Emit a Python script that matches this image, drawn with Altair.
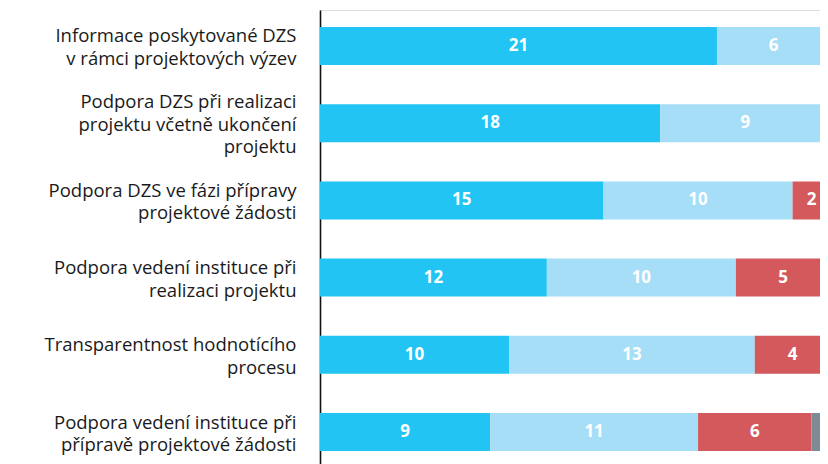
import altair as alt
import pandas as pd

categories = [
    "Informace poskytované DZS|v rámci projektových výzev",
    "Podpora DZS při realizaci|projektu včetně ukončení|projektu",
    "Podpora DZS ve fázi přípravy|projektové žádosti",
    "Podpora vedení instituce při|realizaci projektu",
    "Transparentnost hodnotícího|procesu",
    "Podpora vedení instituce při|přípravě projektové žádosti",
]
series = ["s1", "s2", "s3", "s4"]
s1 = [21, 18, 15, 12, 10, 9]
s2 = [6, 9, 10, 10, 13, 11]
s3 = [0, 0, 2, 5, 4, 6]
s4 = [0, 0, 0, 0, 0, 1]
colors = ["#21C4F3", "#A6DDF7", "#D4595D", "#7E8B94"]

rows = []
for i, c in enumerate(categories):
    for j, (s, vals) in enumerate(zip(series, [s1, s2, s3, s4])):
        if vals[i] > 0:
            rows.append({"cat": c, "series": s, "order": j, "value": vals[i]})
df = pd.DataFrame(rows)

base = alt.Chart(df).transform_stack(
    stack="value", as_=["x0", "x1"], groupby=["cat"], sort=[alt.SortField("order")]
).transform_calculate(mid="(datum.x0 + datum.x1) / 2")

xscale = alt.Scale(domain=[0, 26.45], nice=False, zero=True)

yenc = alt.Y(
    "cat:N",
    sort=categories,
    title=None,
    scale=alt.Scale(paddingInner=0.508, paddingOuter=0.22),
    axis=alt.Axis(
        labelExpr="split(datum.label, '|')",
        labelFont="Open Sans",
        labelFontSize=18.5,
        labelColor="#1a1a1a",
        labelLineHeight=22.5,
        labelPadding=24,
        labelLimit=400,
        labelOffset={
            "condition": {"test": "length(split(datum.value, '|')) > 2", "value": -21},
            "value": -9.5,
        },
        ticks=False,
        domainColor="#111111",
        domainWidth=1.6,
        grid=False,
    ),
)

bars = base.mark_bar(clip=True).encode(
    x=alt.X("x0:Q", scale=xscale, axis=None),
    x2="x1:Q",
    y=yenc,
    color=alt.Color("series:N", scale=alt.Scale(domain=series, range=colors), legend=None),
)

labels = base.transform_filter("datum.value >= 2").mark_text(
    color="white", font="Open Sans", fontWeight="bold", fontSize=17
).encode(
    x=alt.X("mid:Q", scale=xscale),
    y=alt.Y("cat:N", sort=categories),
    text="value:Q",
)

chart = alt.layer(bars, labels).properties(
    width=500,
    height=458,
    autosize=alt.AutoSizeParams(type="none"),
    padding={"left": 312, "top": 2, "right": 0, "bottom": 0},
).configure_view(stroke=None).configure(background="white")

chart.save("out.html", embed_options={"renderer": "svg", "actions": False})
